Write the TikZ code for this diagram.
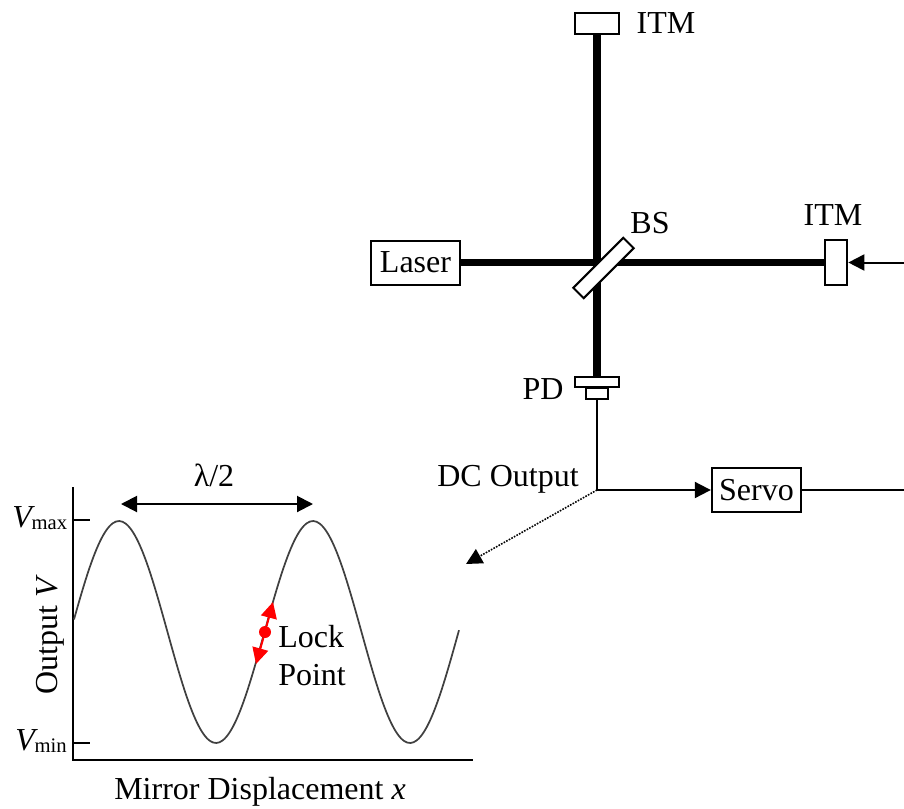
\documentclass[tikz,border=0pt]{standalone}
\usepackage{fontspec}
\setmainfont{Liberation Serif}
\usetikzlibrary{arrows.meta}
\newcommand{\txtsize}{\fontsize{24}{29}\selectfont}
\newcommand{\subsize}{\fontsize{15.5}{20}\selectfont}
\tikzset{
	box/.style={draw=black, line width=1.5pt, fill=white, inner sep=0pt},
	lbl/.style={inner sep=0pt, anchor=base, font=\txtsize},
	beam/.style={black, line width=5.6pt},
	wire/.style={black, line width=1.5pt},
	tipblk/.style={-{Triangle[length=12pt, width=12pt]}},
}

\begin{document}
\begin{tikzpicture}[x=0.75pt, y=-0.75pt] % {{{
\useasboundingbox (0,0) rectangle (904,808);
% interferometer
\node[box, minimum width=33pt, minimum height=16pt] (itmtop) at (597,23.5) {};
\node[box, minimum width=17pt, minimum height=34pt] (itmend) at (836,262.5) {};
\node[box, minimum width=67pt, minimum height=33pt, font=\txtsize] (laser) at (415.5,262.5) {Laser};
\node[box, minimum width=33pt, minimum height=8pt] (pdtop) at (597,382) {};
\node[box, minimum width=17pt, minimum height=8pt] (pdbot) at (597,393.5) {};
\draw[beam] (itmtop) -- (pdtop);
\draw[beam] (laser) -- (itmend);
\node[box, rotate=45, minimum width=53pt, minimum height=11pt] (bs) at (603.5,268) {};
\node[lbl] (itmtoplbl) at (666,33) {ITM};
\node[lbl] (itmendlbl) at (833,225) {ITM};
\node[lbl] (bslbl) at (650,233) {BS};
\node[lbl] (pdlbl) at (543,399) {PD};
\node[lbl] (dclbl) at (508,486) {DC Output};
% servo loop
\node[box, minimum width=67pt, minimum height=33pt, font=\txtsize] (servo) at (756.5,490) {Servo};
\coordinate (dc) at (597,490);
\coordinate (loopout) at (904,490);
\coordinate (loopin) at (904,262.5);
\coordinate (zoomtip) at (466,564);
\draw[wire] (pdbot) -- (dc);
\draw[wire, tipblk] (dc) -- (servo);
\draw[wire] (servo) -- (loopout);
\draw[wire, tipblk] (loopin) -- (itmend);
\draw[line width=1.2pt, densely dotted, -{Triangle[length=12pt, width=12pt]}] (dc) -- (zoomtip);
% fringe plot
\coordinate (origin) at (73,760);
\coordinate (axtop) at (73,487);
\coordinate (axright) at (473,760);
\draw[wire] (axtop) -- (origin) -- (axright);
\foreach \ypos/\yname in {520/tickmax, 743/tickmin} {
	\coordinate (\yname a) at (73,\ypos);
	\coordinate (\yname b) at (90,\ypos);
	\draw[wire] (\yname a) -- (\yname b);
}
\draw[black!75, line width=1.3pt] plot[domain=74:459, samples=120, smooth] (\x, {632-111*cos((\x-119)/194*360)});
\coordinate (peaka) at (121,504);
\coordinate (peakb) at (313,504);
\draw[wire, {Triangle[length=12pt, width=12pt]}-{Triangle[length=12pt, width=12pt]}] (peaka) -- (peakb);
\node[lbl] (lambdalbl) at (214,486) {λ/2};
\node[lbl, anchor=base west] (vmaxlbl) at (12,527) {\textit{V}\kern-2.5pt\raisebox{-1.5pt}{\subsize max}};
\node[lbl, anchor=base west] (vminlbl) at (15,750) {\textit{V}\kern-2.5pt\raisebox{-2pt}{\subsize min}};
\node[lbl, rotate=90] (outlbl) at (57,635) {Output \textit{V}};
\node[lbl] (xlbl) at (260,799) {Mirror Displacement \textit{x}};
% lock point
\coordinate (locka) at (273,602);
\coordinate (lockb) at (256,664);
\node[circle, fill=red, inner sep=0pt, minimum size=9pt] (lock) at (265,632) {};
\draw[red, line width=1.5pt, -{Triangle[length=12pt, width=12pt]}] (lock) -- (locka);
\draw[red, line width=1.5pt, -{Triangle[length=12pt, width=12pt]}] (lock) -- (lockb);
\node[lbl, anchor=base west] (locklbl) at (278,647) {Lock};
\node[lbl, anchor=base west] (pointlbl) at (278,685) {Point};
\end{tikzpicture} % }}}
\end{document}
